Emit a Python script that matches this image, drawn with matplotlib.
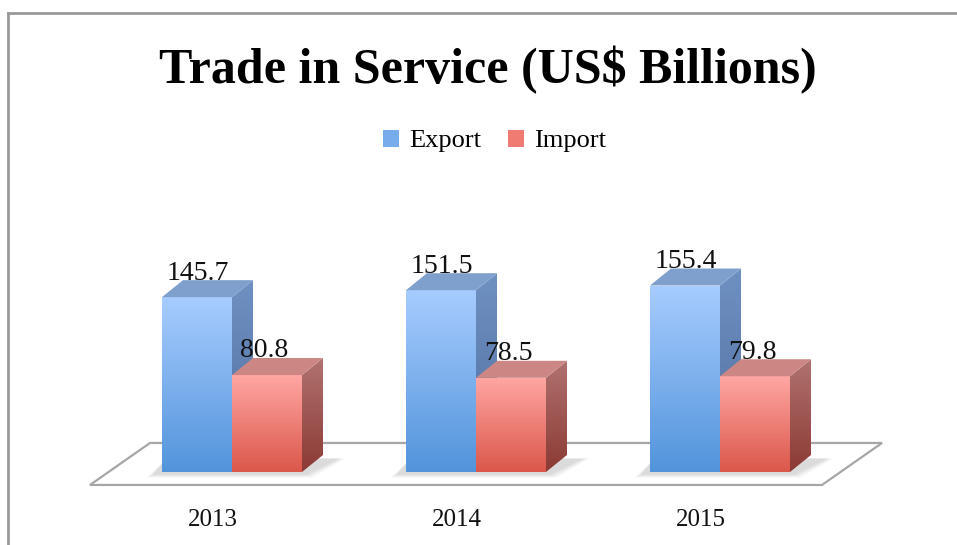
import numpy as np
import matplotlib.pyplot as plt
from matplotlib.patches import Polygon, Patch
from matplotlib.colors import LinearSegmentedColormap
from matplotlib.lines import Line2D

years = ['2013', '2014', '2015']
export = [145.7, 151.5, 155.4]
imports = [80.8, 78.5, 79.8]

# colours: (front top, front bottom, side top, side bottom, top face)
blue = ('#a7ccff', '#5294db', '#6f91c2', '#4d6d9c', '#7f9fcc')
red = ('#ffa6a2', '#db574b', '#b07270', '#8c3a34', '#cc8784')

plt.rcParams['font.family'] = ['Liberation Serif', 'DejaVu Serif']

fig = plt.figure(figsize=(9.57, 5.45), dpi=100)
ax = fig.add_axes([0, 0, 1, 1])
# 1 group = 244 px, 1 unit of value = 1.2 px
ax.set_xlim(-232 / 244, (957 - 232) / 244)
ax.set_ylim(-73 / 1.2, 472 / 1.2)
ax.axis('off')

bw = 70 / 244          # bar width
ddx = 21 / 244         # depth offset in x
ddy = 17 / 1.2         # depth offset in y


def grad_poly(verts, c_top, c_bot, ymin, ymax, z):
    poly = Polygon(verts, closed=True, facecolor='none', edgecolor='none', zorder=z)
    ax.add_patch(poly)
    cmap = LinearSegmentedColormap.from_list('g', [c_bot, c_top])
    xs = [v[0] for v in verts]
    img = ax.imshow(np.linspace(0, 1, 100).reshape(-1, 1), cmap=cmap, aspect='auto',
                    extent=(min(xs), max(xs), ymin, ymax), origin='lower', zorder=z,
                    interpolation='bilinear')
    img.set_clip_path(poly)


def bar3d(x0, h, cols, z):
    ftop, fbot, stop, sbot, tcol = cols
    x1 = x0 + bw
    # front
    grad_poly([(x0, 0), (x1, 0), (x1, h), (x0, h)], ftop, fbot, 0, h, z)
    # side
    grad_poly([(x1, 0), (x1 + ddx, ddy), (x1 + ddx, h + ddy), (x1, h)],
              stop, sbot, 0, h + ddy, z)
    # top
    ax.add_patch(Polygon([(x0, h), (x1, h), (x1 + ddx, h + ddy), (x0 + ddx, h + ddy)],
                         closed=True, facecolor=tcol, edgecolor='none', zorder=z))


# floor
fl = [(-0.582, -10.8), (2.418, -10.8), (2.664, 24.2), (-0.336, 24.2)]
ax.add_patch(Polygon(fl, closed=True, facecolor='white', edgecolor='#a6a6a6', lw=1.6, zorder=1))

x = np.arange(len(years))
for i in range(len(years)):
    # soft shadow under the pair of bars
    for k in range(4):
        s = (4 - k) * 0.008
        ax.add_patch(Polygon([(x[i] - bw - s - 0.03, -1.5 - (4 - k) * 0.8),
                              (x[i] + bw + s + 0.01, -1.5 - (4 - k) * 0.8),
                              (x[i] + bw + ddx + s + 0.06, ddy * 0.8),
                              (x[i] - bw + 0.02, ddy * 0.8)],
                             closed=True, facecolor='black', alpha=0.035, edgecolor='none', zorder=2))
    bar3d(x[i] - bw, export[i], blue, 4)
    bar3d(x[i], imports[i], red, 5)
    ax.text(x[i] - bw / 2 + 0.005, export[i] + ddy + 0.5, f'{export[i]:.1f}',
            ha='center', va='baseline', fontsize=20, color='#111111', zorder=6)
    ax.text(x[i] + bw / 2 - 0.01, imports[i] + ddy + 0.5, f'{imports[i]:.1f}',
            ha='center', va='baseline', fontsize=20, color='#111111', zorder=6)
    ax.text(x[i] - 0.078, -40, years[i], ha='center', va='center', fontsize=18, color='#111111')

fig.text(0.51, 0.872, 'Trade in Service (US$ Billions)', ha='center', va='center',
         fontsize=36, fontweight='bold', color='black')

handles = [Patch(facecolor='#76acec', edgecolor='none', label='Export'),
           Patch(facecolor='#ef7b73', edgecolor='none', label='Import')]
fig.legend(handles=handles, loc='center', bbox_to_anchor=(0.517, 0.741), ncol=2, frameon=False,
           fontsize=19, handlelength=0.6, handleheight=0.6, handletextpad=0.4, columnspacing=1.0)

# chart frame (top and left edges visible)
fig.add_artist(Line2D([8 / 957, 8 / 957], [0, 1 - 13 / 545], transform=fig.transFigure,
                      color='#9a9a9a', lw=2))
fig.add_artist(Line2D([8 / 957, 1], [1 - 13 / 545, 1 - 13 / 545], transform=fig.transFigure,
                      color='#9a9a9a', lw=2))

fig.savefig('out.png', dpi=100)
